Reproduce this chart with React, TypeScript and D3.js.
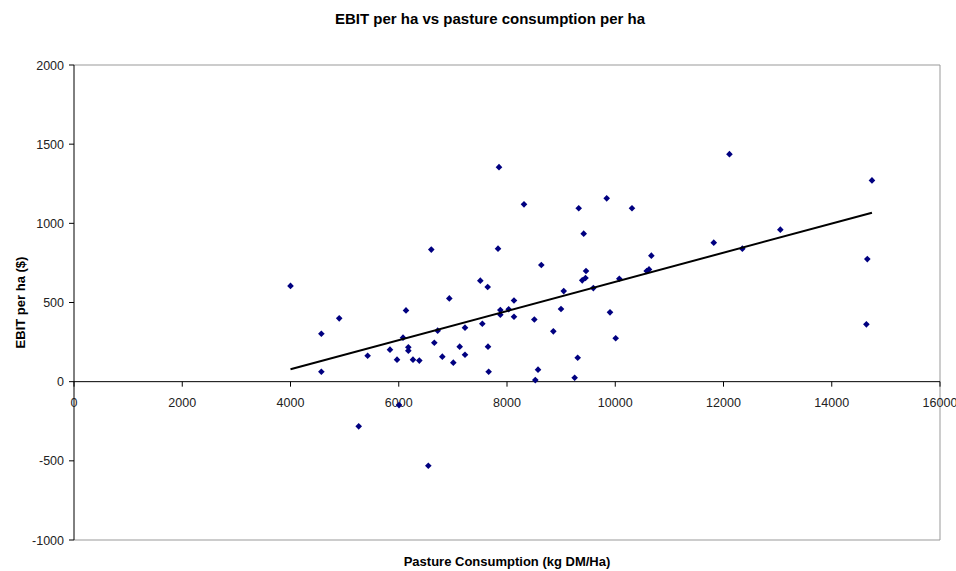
import React from "react";
import * as d3 from "d3";

const pastureX: number[] = [
  4000, 4570, 4570, 4900, 5260, 5425, 5838, 5968, 6005, 6079, 6134, 6177, 6177, 6263, 6380,
  6601, 6546, 6657, 6719, 6805, 6934, 7008, 7126, 7224, 7224, 7507, 7643, 7544, 7649, 7661,
  7834, 7852, 7877, 7877, 8031, 8129, 8129, 8314, 8505, 8523, 8573, 8634, 8856, 8998, 9048,
  9250, 9306, 9325, 9390, 9450, 9417, 9460, 9595, 9842, 9903, 10008, 10075, 10309, 10581,
  10624, 10667, 11820, 12110, 12348, 13050, 14640, 14657, 14743,
];
const ebitY: number[] = [
  605, 303, 63, 400, -282, 164, 202, 139, -148, 278, 450, 217, 196, 139, 133,
  834, -531, 246, 322, 158, 526, 120, 221, 341, 170, 638, 598, 366, 221, 63,
  840, 1355, 452, 423, 457, 513, 410, 1120, 393, 10, 76, 737, 318, 459, 572,
  25, 151, 1095, 640, 655, 935, 699, 591, 1158, 438, 274, 650, 1095, 699,
  709, 796, 878, 1437, 840, 960, 362, 774, 1271,
];
const xTicks: number[] = [0, 2000, 4000, 6000, 8000, 10000, 12000, 14000, 16000];
const yTicks: number[] = [-1000, -500, 0, 500, 1000, 1500, 2000];

const W = 956;
const H = 571;
const left = 74;
const right = 940;
const top = 65;
const bottom = 540;

export default function App() {
  const x = d3.scaleLinear().domain([0, 16000]).range([left, right]);
  const y = d3.scaleLinear().domain([-1000, 2000]).range([bottom, top]);

  const mx = d3.mean(pastureX)!;
  const my = d3.mean(ebitY)!;
  let sxy = 0;
  let sxx = 0;
  pastureX.forEach((v, i) => {
    sxy += (v - mx) * (ebitY[i] - my);
    sxx += (v - mx) * (v - mx);
  });
  const slope = sxy / sxx;
  const icpt = my - slope * mx;
  const x0 = d3.min(pastureX)!;
  const x1 = d3.max(pastureX)!;
  const line = d3.line<number>().x((d) => x(d)).y((d) => y(icpt + slope * d));

  const font = "'Liberation Sans', Arial, sans-serif";
  const diamond = d3.symbol().type(d3.symbolDiamond2).size(28)()!;

  return (
    <svg
      width={W}
      height={H}
      style={{ position: "absolute", left: 0, top: 0, background: "#fff" }}
      fontFamily={font}
    >
      <rect x={0} y={0} width={W} height={H} fill="#fff" />
      <text x={490} y={24} textAnchor="middle" fontSize={15} fontWeight="bold" fill="#000">
        EBIT per ha vs pasture consumption per ha
      </text>
      {/* plot border */}
      <line x1={left} x2={right} y1={top} y2={top} stroke="#999" />
      <line x1={right} x2={right} y1={top} y2={bottom} stroke="#999" />
      <line x1={left} x2={right} y1={bottom} y2={bottom} stroke="#999" />
      {/* y axis */}
      <line x1={left} x2={left} y1={top} y2={bottom} stroke="#000" />
      {yTicks.map((t) => (
        <g key={t}>
          <line x1={left - 5} x2={left} y1={y(t)} y2={y(t)} stroke="#000" />
          <text x={left - 10} y={y(t) + 4.5} textAnchor="end" fontSize={12.5} fill="#222">
            {t}
          </text>
        </g>
      ))}
      {/* x axis at 0 */}
      <line x1={left} x2={right} y1={y(0)} y2={y(0)} stroke="#000" />
      {xTicks.map((t) => (
        <g key={t}>
          <line x1={x(t)} x2={x(t)} y1={y(0)} y2={y(0) + 5} stroke="#000" />
          <text x={x(t)} y={y(0) + 25} textAnchor="middle" fontSize={12.5} fill="#222">
            {t}
          </text>
        </g>
      ))}
      {/* points */}
      {pastureX.map((v, i) => (
        <path key={i} d={diamond} transform={`translate(${x(v)},${y(ebitY[i])})`} fill="#000080" />
      ))}
      {/* trend line */}
      <path d={line([x0, x1]) ?? ""} stroke="#000" strokeWidth={2} fill="none" />
      <text
        transform={`translate(25,${(top + bottom) / 2}) rotate(-90)`}
        textAnchor="middle"
        fontSize={13}
        fontWeight="bold"
        fill="#000"
      >
        EBIT per ha ($)
      </text>
      <text x={(left + right) / 2} y={566} textAnchor="middle" fontSize={13} fontWeight="bold" fill="#000">
        Pasture Consumption (kg DM/Ha)
      </text>
    </svg>
  );
}
